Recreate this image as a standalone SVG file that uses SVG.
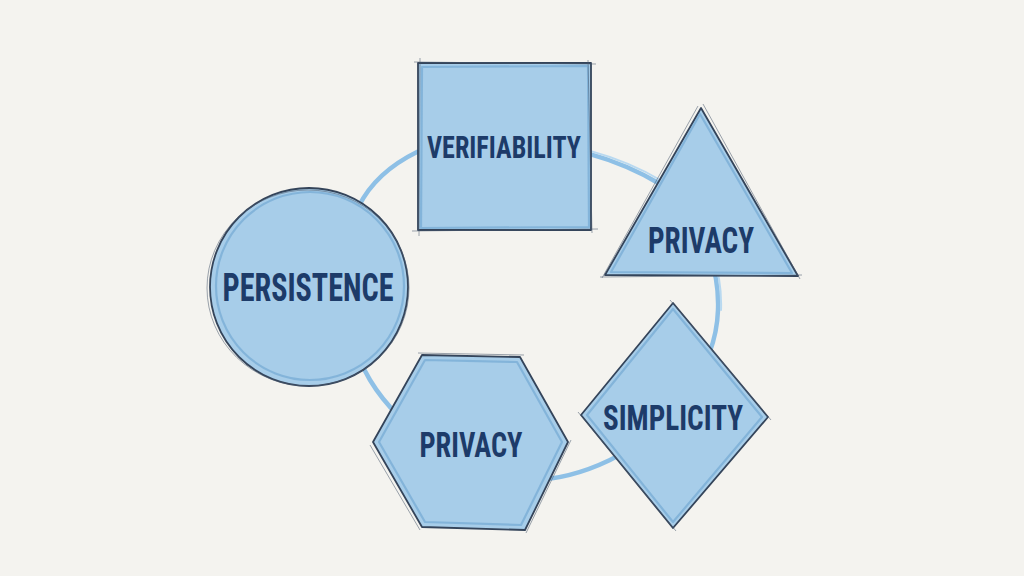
<svg xmlns="http://www.w3.org/2000/svg" width="1024" height="576" viewBox="0 0 1024 576">
<defs>
<style>
.bg{fill:#f4f3ef}
.ring{fill:none;stroke:#8ec0e6;stroke-width:4.5;stroke-linecap:round}
.ring2{fill:none;stroke:#b9d9f0;stroke-width:2;stroke-linecap:round}
.shape{fill:#a7cde9;stroke:#34445a;stroke-width:1.8;stroke-linejoin:round}
.sk1{fill:none;stroke:#7aaed6;stroke-width:2.2;stroke-linejoin:round;opacity:0.8}
.sk2{fill:none;stroke:#4a5a6e;stroke-width:0.9;opacity:0.6}
.lbl{font-family:"Roboto Condensed","DejaVu Sans Condensed","Liberation Sans Narrow","Roboto",sans-serif;font-weight:bold;fill:#1d3b69;text-anchor:middle}
</style>
</defs>
<rect class="bg" x="0" y="0" width="1024" height="576"/>
<g id="connectors">
<path class="ring" d="M500 143 C560 140 620 160 660 184 C695 210 720 260 718 310 C716 370 670 430 610 460 C585 472 560 480 530 480 C470 480 400 430 370 380 C355 355 345 320 346 285 C342 225 360 180 417 152 C440 146 470 143 500 143 Z"/>
<path class="ring2" d="M500 140 C560 137 622 157 662 181 C698 208 723 260 721 310"/>
</g>
<g id="node-verifiability">
<rect class="shape" x="418" y="63" width="173" height="167"/>
<path class="sk1" d="M422 67 L588 66 L589 227 L421 228 Z"/>
<path class="sk2" d="M414 62 L596 64 M420 58 L419 236 M588 60 L592 233 M412 231 L598 229"/>
<text class="lbl" x="504" y="158" font-size="32" textLength="154" lengthAdjust="spacingAndGlyphs">VERIFIABILITY</text>
</g>
<g id="node-privacy-triangle">
<polygon class="shape" points="701,108 605,275 798,276"/>
<path class="sk1" d="M700 114 L611 272 L792 273 Z"/>
<path class="sk2" d="M703 104 L800 279 M698 106 L602 278 M600 277 L802 275"/>
<text class="lbl" x="701" y="253" font-size="37" textLength="106" lengthAdjust="spacingAndGlyphs">PRIVACY</text>
</g>
<g id="node-simplicity">
<polygon class="shape" points="673,303 768,417 673,528 581,415"/>
<path class="sk1" d="M673 309 L762 417 L673 522 L587 415 Z"/>
<path class="sk2" d="M670 300 L771 420 M676 531 L578 412"/>
<text class="lbl" x="673" y="430" font-size="35" textLength="140" lengthAdjust="spacingAndGlyphs">SIMPLICITY</text>
</g>
<g id="node-privacy-hexagon">
<polygon class="shape" points="422,355 520,357 568,442 525,530 422,527 373,442"/>
<path class="sk1" d="M425 360 L517 362 L562 442 L521 525 L425 522 L379 442 Z"/>
<path class="sk2" d="M418 353 L524 355 M370 445 L420 530 M526 533 L571 440"/>
<text class="lbl" x="471" y="457" font-size="35" textLength="103" lengthAdjust="spacingAndGlyphs">PRIVACY</text>
</g>
<g id="node-persistence">
<circle class="shape" cx="309" cy="287" r="99"/>
<circle class="sk1" cx="310" cy="286" r="94"/>
<ellipse class="sk2" cx="308" cy="288" rx="101" ry="98"/>
<text class="lbl" x="308" y="301" font-size="38" textLength="171" lengthAdjust="spacingAndGlyphs">PERSISTENCE</text>
</g>
</svg>
